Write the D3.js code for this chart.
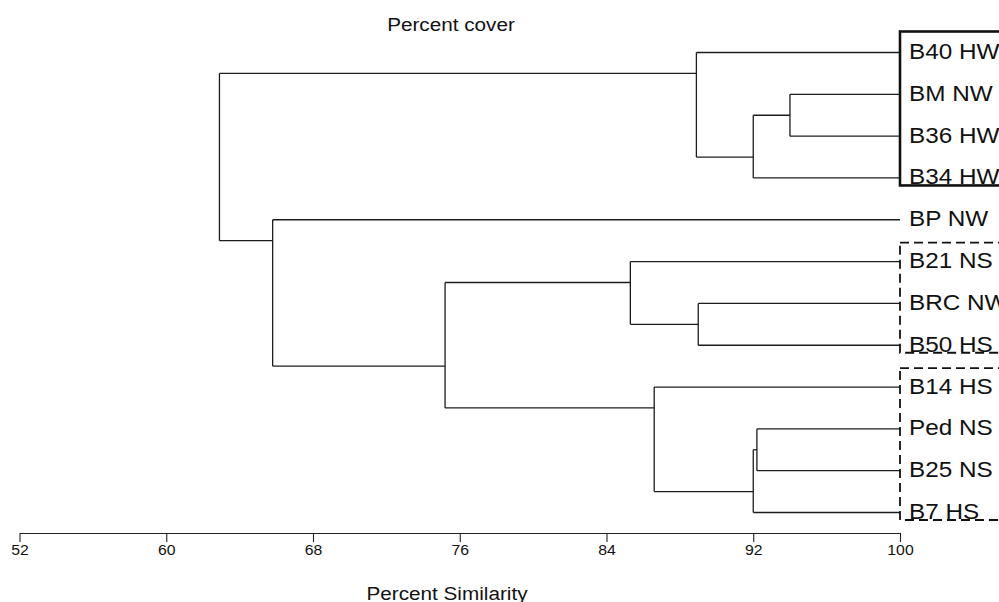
<!DOCTYPE html>
<html>
<head>
<meta charset="utf-8">
<script src="https://cdn.jsdelivr.net/npm/d3@7"></script>
<style>
  body { margin: 0; background: #fff; }
  svg { display: block; }
  text { font-family: "Liberation Sans", Arial, Helvetica, sans-serif; fill: #111; }
</style>
</head>
<body>
<svg id="chart" width="999" height="602"></svg>
<script>
// Sample sites, in dendrogram order (top to bottom)
const leaves = ["B40 HW", "BM NW", "B36 HW", "B34 HW", "BP NW", "B21 NS",
                "BRC NW", "B50 HS", "B14 HS", "Ped NS", "B25 NS", "B7 HS"];

// Agglomeration steps: members joined (site name, or an earlier step "m#") and % similarity
const mergeLeft  = ["BM NW",  "m1",     "B40 HW", "Ped NS", "m4",    "B14 HS", "BRC NW", "B21 NS", "m8", "BP NW", "m3"];
const mergeRight = ["B36 HW", "B34 HW", "m2",     "B25 NS", "B7 HS", "m5",     "B50 HS", "m7",     "m6", "m9",    "m10"];
const mergeLevel = [94.0, 92.0, 88.9, 92.2, 92.0, 86.6, 89.0, 85.3, 75.2, 65.8, 62.9];

// Similarity axis ticks
const tickValues = [52, 60, 68, 76, 84, 92, 100];

// Outlined site groups
const groupFirst  = ["B40 HW", "B21 NS", "B14 HS"];
const groupLast   = ["B34 HW", "B50 HS", "B7 HS"];
const groupDashed = [false, true, true];

const titleText = "Percent cover";
const axisTitle = "Percent Similarity";

// ---------------------------------------------------------------
const svg = d3.select("#chart");
const stretch = "scale(1.09,1)";

const x = d3.scaleLinear().domain([52, 100]).range([19.5, 900]);
const y = d3.scaleLinear().domain([0, leaves.length - 1]).range([52.5, 512.5]);

// Build nodes: leaves sit on their row, joined clusters meet at the
// boundary between their two sub-clusters.
const nodes = new Map();
leaves.forEach((name, i) => nodes.set(name, { name, level: 100, lo: i, hi: i, join: i, leaf: true }));
mergeLevel.forEach((level, k) => {
  const a = nodes.get(mergeLeft[k]);
  const b = nodes.get(mergeRight[k]);
  nodes.set("m" + (k + 1), {
    name: "m" + (k + 1), level,
    lo: Math.min(a.lo, b.lo), hi: Math.max(a.hi, b.hi),
    join: a.hi + 0.5, children: [a, b]
  });
});

const links = svg.append("g")
  .attr("fill", "none")
  .attr("stroke", "#1c1c1c")
  .attr("stroke-width", 1.3);

mergeLevel.forEach((level, k) => {
  const node = nodes.get("m" + (k + 1));
  const [a, b] = node.children;
  // vertical connector
  links.append("path")
    .attr("d", d3.line()([[x(level), y(a.join)], [x(level), y(b.join)]]));
  // horizontal branches to each member
  node.children.forEach(c => {
    links.append("path")
      .attr("d", d3.line()([[x(level), y(c.join)], [x(c.level), y(c.join)]]));
  });
});

// Site labels
svg.append("g").selectAll("text")
  .data(leaves)
  .join("text")
  .attr("transform", (d, i) => `translate(909,${y(i) + 6.5}) ${stretch}`)
  .attr("font-size", 22.3)
  .text(d => d);

// Group outlines
const boxes = svg.append("g").attr("fill", "none");
groupFirst.forEach((first, g) => {
  const top = y(leaves.indexOf(first)) - (g === 0 ? 21 : 19);
  const bottom = y(leaves.indexOf(groupLast[g])) + 7.5;
  boxes.append("rect")
    .attr("x", x(100))
    .attr("y", top)
    .attr("width", 120)
    .attr("height", bottom - top)
    .attr("stroke", "#111")
    .attr("stroke-width", groupDashed[g] ? 1.8 : 2.6)
    .attr("stroke-dasharray", groupDashed[g] ? "9,5" : null);
});

// Similarity axis
const axis = svg.append("g")
  .attr("transform", "translate(0,533)")
  .call(d3.axisBottom(x).tickValues(tickValues).tickSize(9).tickSizeOuter(0).tickPadding(3)
        .tickFormat(d3.format("d")));
axis.select(".domain").attr("stroke", "#222").attr("stroke-width", 1.1);
axis.selectAll(".tick line").attr("stroke", "#222").attr("stroke-width", 1.1);
axis.selectAll(".tick text")
  .attr("font-size", 14.5)
  .attr("font-family", "'Liberation Sans', Arial, sans-serif")
  .attr("fill", "#111")
  .attr("transform", stretch);

// Titles
svg.append("text")
  .attr("transform", `translate(451,31) ${stretch}`)
  .attr("text-anchor", "middle")
  .attr("font-size", 19)
  .text(titleText);

svg.append("text")
  .attr("transform", `translate(447,600) ${stretch}`)
  .attr("text-anchor", "middle")
  .attr("font-size", 19)
  .text(axisTitle);
</script>
</body>
</html>
